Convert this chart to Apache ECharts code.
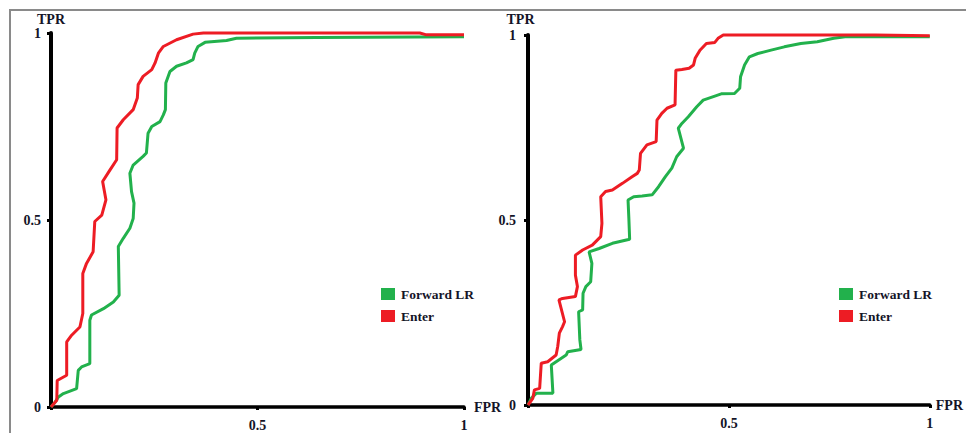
<!DOCTYPE html>
<html>
<head>
<meta charset="utf-8">
<script src="https://cdn.jsdelivr.net/npm/echarts@6/dist/echarts.min.js"></script>
<style>
  html, body { margin: 0; padding: 0; background: #fff; font-family: serif; }
  #wrap { position: relative; width: 966px; height: 433px; overflow: hidden; }
  #frame { position: absolute; left: 9px; top: 9px; right: -10px; bottom: -10px; border-top: 2px solid #8a8a8a; border-left: 2px solid #8a8a8a; }
  #chart { position: absolute; left: 0; top: 0; width: 966px; height: 433px; }
</style>
</head>
<body>
<div id="wrap"><div id="frame"></div><div id="chart"></div></div>
<script>
// ---- data (FPR, TPR) ----
const seriesNames = ['Forward LR', 'Enter'];
const xTickLabels = ['', '0.5', '1'];
const yTickLabels = ['0', '0.5', '1'];

const leftForwardLR = [
  [0, 0], [0.010, 0.013], [0.018, 0.027], [0.030, 0.036], [0.062, 0.049], [0.066, 0.098],
  [0.074, 0.107], [0.094, 0.116], [0.094, 0.232], [0.098, 0.246], [0.127, 0.263], [0.151, 0.281],
  [0.165, 0.299], [0.163, 0.429], [0.175, 0.451], [0.191, 0.478], [0.199, 0.504], [0.201, 0.545],
  [0.195, 0.576], [0.191, 0.625], [0.199, 0.647], [0.223, 0.670], [0.231, 0.679], [0.235, 0.732],
  [0.244, 0.750], [0.264, 0.763], [0.272, 0.781], [0.277, 0.795], [0.278, 0.866], [0.288, 0.897],
  [0.304, 0.911], [0.328, 0.920], [0.344, 0.929], [0.348, 0.946], [0.356, 0.964], [0.373, 0.975],
  [0.425, 0.980], [0.449, 0.986], [0.643, 0.988], [1.0, 0.99]
];
const leftEnter = [
  [0, 0], [0.014, 0.018], [0.015, 0.071], [0.038, 0.085], [0.038, 0.174], [0.050, 0.192],
  [0.070, 0.214], [0.077, 0.25], [0.077, 0.357], [0.086, 0.384], [0.102, 0.415], [0.106, 0.496],
  [0.123, 0.513], [0.133, 0.554], [0.125, 0.603], [0.143, 0.634], [0.159, 0.661], [0.160, 0.746],
  [0.175, 0.768], [0.199, 0.795], [0.209, 0.826], [0.211, 0.862], [0.223, 0.884], [0.244, 0.902],
  [0.252, 0.920], [0.260, 0.946], [0.272, 0.964], [0.304, 0.982], [0.344, 0.997], [0.369, 1.0],
  [0.893, 1.0], [0.909, 0.995], [1.0, 0.995]
];
const rightForwardLR = [
  [0, 0], [0.008, 0.018], [0.021, 0.032], [0.062, 0.032], [0.058, 0.108], [0.070, 0.117],
  [0.095, 0.135], [0.099, 0.144], [0.132, 0.150], [0.129, 0.176], [0.126, 0.252], [0.136, 0.257],
  [0.137, 0.302], [0.144, 0.320], [0.156, 0.333], [0.159, 0.383], [0.152, 0.414], [0.177, 0.423],
  [0.210, 0.437], [0.253, 0.448], [0.251, 0.505], [0.249, 0.554], [0.263, 0.563], [0.284, 0.565],
  [0.309, 0.568], [0.325, 0.590], [0.342, 0.617], [0.358, 0.640], [0.370, 0.671], [0.387, 0.694],
  [0.374, 0.748], [0.383, 0.761], [0.399, 0.779], [0.420, 0.806], [0.436, 0.824], [0.465, 0.835],
  [0.481, 0.841], [0.514, 0.842], [0.527, 0.856], [0.529, 0.887], [0.539, 0.919], [0.551, 0.941],
  [0.572, 0.950], [0.605, 0.959], [0.638, 0.968], [0.679, 0.977], [0.720, 0.982], [0.761, 0.991],
  [0.794, 0.996], [1.0, 0.995]
];
const rightEnter = [
  [0, 0], [0.012, 0.018], [0.016, 0.041], [0.029, 0.045], [0.033, 0.113], [0.049, 0.117],
  [0.070, 0.135], [0.074, 0.158], [0.078, 0.194], [0.086, 0.212], [0.091, 0.225], [0.077, 0.284],
  [0.086, 0.288], [0.118, 0.293], [0.123, 0.320], [0.118, 0.351], [0.118, 0.405], [0.136, 0.419],
  [0.160, 0.432], [0.181, 0.455], [0.184, 0.491], [0.181, 0.563], [0.193, 0.577], [0.210, 0.581],
  [0.235, 0.599], [0.259, 0.617], [0.272, 0.626], [0.277, 0.635], [0.280, 0.680], [0.296, 0.703],
  [0.319, 0.712], [0.321, 0.770], [0.333, 0.788], [0.346, 0.802], [0.366, 0.811], [0.368, 0.905],
  [0.383, 0.907], [0.401, 0.910], [0.412, 0.919], [0.416, 0.937], [0.428, 0.959], [0.444, 0.977],
  [0.465, 0.980], [0.473, 0.991], [0.486, 1.0], [0.864, 1.0], [1.0, 0.998]
];

const GREEN = '#22b14c';
const RED = '#ed1c24';
const FAMILY = 'Liberation Serif, serif';
const FONT = { fontFamily: FAMILY, fontWeight: 'bold', fontSize: 14, color: '#141428' };

function xAxis(gridIndex, nameGap) {
  return {
    type: 'value', gridIndex, min: 0, max: 1, interval: 0.5,
    name: 'FPR', nameLocation: 'end', nameGap,
    nameTextStyle: Object.assign({}, FONT, { verticalAlign: 'middle', padding: [5, 0, 0, 0] }),
    axisLine: { show: true, lineStyle: { color: '#000', width: 3.5 } },
    axisTick: { show: true, length: 3, lineStyle: { color: '#000', width: 3 } },
    axisLabel: Object.assign({}, FONT, {
      margin: 11,
      formatter: v => xTickLabels[Math.round(v / 0.5)]
    }),
    splitLine: { show: false }
  };
}
function yAxis(gridIndex, nameGap, namePad, labelMargin) {
  return {
    type: 'value', gridIndex, min: 0, max: 1, interval: 0.5,
    name: 'TPR', nameLocation: 'end', nameGap,
    nameTextStyle: Object.assign({}, FONT, { padding: namePad }),
    axisLine: { show: true, lineStyle: { color: '#000', width: 4 } },
    axisTick: { show: true, length: 4, lineStyle: { color: '#000', width: 3 } },
    axisLabel: Object.assign({}, FONT, {
      margin: labelMargin,
      formatter: v => yTickLabels[Math.round(v / 0.5)]
    }),
    splitLine: { show: false }
  };
}
function lineSeries(name, data, idx, color) {
  return {
    name, type: 'line', data, xAxisIndex: idx, yAxisIndex: idx,
    showSymbol: false, symbol: 'none', clip: false,
    lineStyle: { color, width: 3 }, itemStyle: { color },
    emphasis: { disabled: true }, animation: false
  };
}
function legend(left) {
  return {
    data: seriesNames, orient: 'vertical', left, top: 282,
    itemWidth: 14, itemHeight: 12, itemGap: 8, icon: 'rect',
    textStyle: Object.assign({}, FONT, { fontSize: 13.5, padding: [0, 0, 0, 1] }),
    inactiveColor: '#ccc'
  };
}

const chart = echarts.init(document.getElementById('chart'), null, { renderer: 'svg' });
chart.setOption({
  animation: false,
  backgroundColor: 'transparent',
  textStyle: { fontFamily: FAMILY },
  grid: [
    { left: 51, top: 33, width: 413, height: 374 },
    { left: 528, top: 35, width: 405, height: 370 }
  ],
  xAxis: [xAxis(0, 10), xAxis(1, 6)],
  yAxis: [yAxis(0, 3, [0, 0, 0, 0], 10), yAxis(1, 9, [0, 15, 0, 0], 12)],
  legend: [legend(376), legend(834)],
  series: [
    lineSeries('Forward LR', leftForwardLR, 0, GREEN),
    lineSeries('Enter', leftEnter, 0, RED),
    lineSeries('Forward LR', rightForwardLR, 1, GREEN),
    lineSeries('Enter', rightEnter, 1, RED)
  ]
});
</script>
</body>
</html>
